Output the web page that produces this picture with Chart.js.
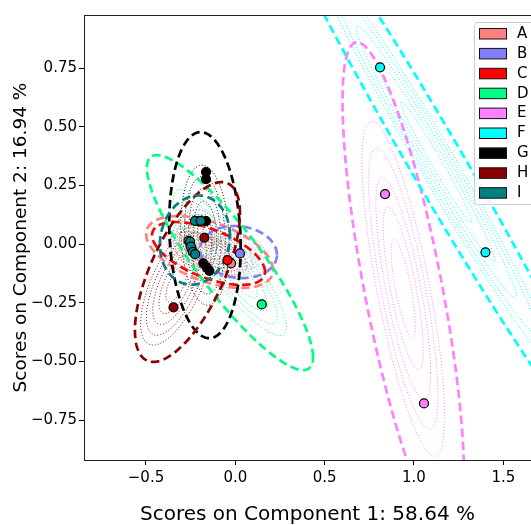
<!DOCTYPE html>
<html>
<head>
<meta charset="utf-8">
<script src="https://cdn.jsdelivr.net/npm/chart.js@4"></script>
<style>
  html, body { margin: 0; padding: 0; background: #fff; overflow: hidden; }
  canvas { display: block; }
</style>
</head>
<body>
<canvas id="pcaChart" width="531" height="525"></canvas>
<script>
// groups and colours
const groups = ['A', 'B', 'C', 'D', 'E', 'F', 'G', 'H', 'I'];
const colors = ['#ff8080', '#8080ff', '#ff0000', '#00ff80', '#ff80ff', '#00ffff', '#000000', '#8b0000', '#008080'];

// scores [PC1, PC2]
const scoresA = [[-0.262, 0.014], [-0.024, -0.082]];
const scoresB = [[0.026, -0.040]];
const scoresC = [[-0.244, -0.021], [-0.044, -0.068]];
const scoresD = [[-0.208, 0.097], [0.148, -0.257]];
const scoresE = [[0.838, 0.213], [1.056, -0.679]];
const scoresF = [[0.810, 0.753], [1.400, -0.035]];
const scoresG = [[-0.164, 0.307], [-0.164, 0.277], [-0.164, 0.098], [-0.179, -0.082], [-0.160, -0.099], [-0.145, -0.114]];
const scoresH = [[-0.173, 0.027], [-0.346, -0.270]];
const scoresI = [[-0.226, 0.099], [-0.194, 0.099], [-0.253, 0.010], [-0.248, -0.011], [-0.238, -0.033], [-0.225, -0.043]];
const allScores = [scoresA, scoresB, scoresC, scoresD, scoresE, scoresF, scoresG, scoresH, scoresI];

// confidence ellipses: centre, half extents on each axis, correlation
const ellCx = [-0.144, 0.018, -0.150, -0.030, 0.940, 1.125, -0.170, -0.268, -0.226];
const ellCy = [-0.034, -0.034, -0.040, -0.079, -0.190, 0.350, 0.038, -0.119, 0.017];
const ellSx = [0.355, 0.215, 0.316, 0.465, 0.340, 0.996, 0.200, 0.294, 0.196];
const ellSy = [0.153, 0.111, 0.134, 0.458, 1.050, 1.289, 0.439, 0.383, 0.190];
const ellR  = [-0.50, -0.10, -0.58, -0.88, -0.76, -0.985, -0.12, 0.65, 0.10];
// dotted density contours
const dotCx = [-0.144, 0.018, -0.150, -0.030, 0.940, 1.125, -0.170, -0.330, -0.226];
const dotCy = [-0.034, -0.034, -0.040, -0.079, -0.190, 0.350, 0.038, -0.170, 0.017];
const contourLevels = [0.2, 0.33, 0.45, 0.57, 0.68];

// axes
const xTicks = [-0.5, 0.0, 0.5, 1.0, 1.5];
const yTicks = [-0.75, -0.5, -0.25, 0.0, 0.25, 0.5, 0.75];
const xRange = [-0.847, 1.655];
const yRange = [-0.92, 0.976];
const xTitle = 'Scores on Component 1: 58.64 %';
const yTitle = 'Scores on Component 2: 16.94 %';

const FONT = 'DejaVu Sans';
const minus = s => s.replace('-', '\u2212');

function traceEllipse(ctx, xs, ys, cx, cy, sx, sy, r) {
  const s = Math.sqrt(1 - r * r);
  ctx.beginPath();
  for (let k = 0; k <= 240; k++) {
    const t = k / 240 * 2 * Math.PI;
    const px = xs.getPixelForValue(cx + sx * Math.cos(t));
    const py = ys.getPixelForValue(cy + sy * (r * Math.cos(t) + s * Math.sin(t)));
    if (k === 0) ctx.moveTo(px, py); else ctx.lineTo(px, py);
  }
  ctx.closePath();
  ctx.stroke();
}

const ellipsePlugin = {
  id: 'ellipses',
  beforeDatasetsDraw(chart) {
    const {ctx, chartArea: a, scales: {x, y}} = chart;
    ctx.save();
    ctx.beginPath();
    ctx.rect(a.left, a.top, a.right - a.left, a.bottom - a.top);
    ctx.clip();
    // dotted contours
    ctx.lineWidth = 1;
    ctx.setLineDash([1, 2]);
    groups.forEach((g, i) => {
      ctx.strokeStyle = colors[i];
      contourLevels.forEach(k => traceEllipse(ctx, x, y, dotCx[i], dotCy[i], ellSx[i] * k, ellSy[i] * k, ellR[i]));
    });
    // dashed ellipses
    ctx.lineWidth = 2.7;
    ctx.setLineDash([8.5, 4.5]);
    groups.forEach((g, i) => {
      ctx.strokeStyle = colors[i];
      traceEllipse(ctx, x, y, ellCx[i], ellCy[i], ellSx[i], ellSy[i], ellR[i]);
    });
    ctx.restore();
  },
  afterDraw(chart) {
    const {ctx, chartArea: a} = chart;
    // top spine
    ctx.save();
    ctx.strokeStyle = '#222';
    ctx.lineWidth = 1;
    ctx.beginPath();
    ctx.moveTo(a.left, a.top + 0.5);
    ctx.lineTo(a.right, a.top + 0.5);
    ctx.stroke();

    // legend box
    ctx.fillStyle = 'rgba(255,255,255,0.85)';
    ctx.strokeStyle = '#cccccc';
    ctx.beginPath();
    ctx.roundRect(474.5, 22.5, 80, 182, 3);
    ctx.fill();
    ctx.stroke();
    ctx.font = '15px "' + FONT + '"';
    ctx.textBaseline = 'middle';
    ctx.textAlign = 'left';
    groups.forEach((g, i) => {
      const yy = 28.5 + i * 19.9;
      ctx.fillStyle = colors[i];
      ctx.fillRect(479.5, yy, 27, 10.5);
      ctx.strokeStyle = '#111';
      ctx.lineWidth = 1;
      ctx.strokeRect(479.5, yy, 27, 10.5);
      ctx.fillStyle = '#000';
      ctx.fillText(g, 517, yy + 5.5);
    });
    ctx.restore();
  }
};

const datasets = groups.map((g, i) => ({
  label: g,
  data: allScores[i].map(p => ({x: p[0], y: p[1]})),
  backgroundColor: colors[i],
  borderColor: '#000',
  borderWidth: 1.2,
  pointRadius: 4.5,
  order: groups.length - i
}));

new Chart(document.getElementById('pcaChart').getContext('2d'), {
  type: 'scatter',
  data: {datasets},
  options: {
    responsive: false,
    animation: false,
    devicePixelRatio: 1,
    layout: {autoPadding: false, padding: {top: 15, right: 0, bottom: 0, left: 0}},
    plugins: {legend: {display: false}, tooltip: {enabled: false}},
    scales: {
      x: {
        type: 'linear',
        min: xRange[0],
        max: xRange[1],
        afterBuildTicks: s => { s.ticks = xTicks.map(v => ({value: v})); },
        afterFit: s => { s.height = 65; s.paddingLeft = 0; s.paddingRight = 0; },
        ticks: {
          callback: v => minus(Number(v).toFixed(1)),
          font: {family: FONT, size: 15, lineHeight: 1},
          color: '#000',
          padding: 6,
          maxRotation: 0,
          autoSkip: false
        },
        grid: {drawOnChartArea: false, tickLength: 5, color: '#000'},
        border: {color: '#222', width: 1},
        title: {
          display: true,
          text: xTitle,
          color: '#000',
          font: {family: FONT, size: 20, lineHeight: 1},
          padding: {top: 0, bottom: 0}
        }
      },
      y: {
        type: 'linear',
        min: yRange[0],
        max: yRange[1],
        afterBuildTicks: s => { s.ticks = yTicks.map(v => ({value: v})); },
        afterFit: s => { s.width = 84; s.paddingTop = 0; s.paddingBottom = 0; },
        ticks: {
          callback: v => minus(Number(v).toFixed(2)),
          font: {family: FONT, size: 15, lineHeight: 1},
          color: '#000',
          padding: 2,
          autoSkip: false
        },
        grid: {drawOnChartArea: false, tickLength: 5, color: '#000'},
        border: {color: '#222', width: 1},
        title: {
          display: true,
          text: yTitle,
          color: '#000',
          font: {family: FONT, size: 18.5, lineHeight: 1},
          padding: {top: 12, bottom: 0}
        }
      }
    }
  },
  plugins: [ellipsePlugin]
});
</script>
</body>
</html>
